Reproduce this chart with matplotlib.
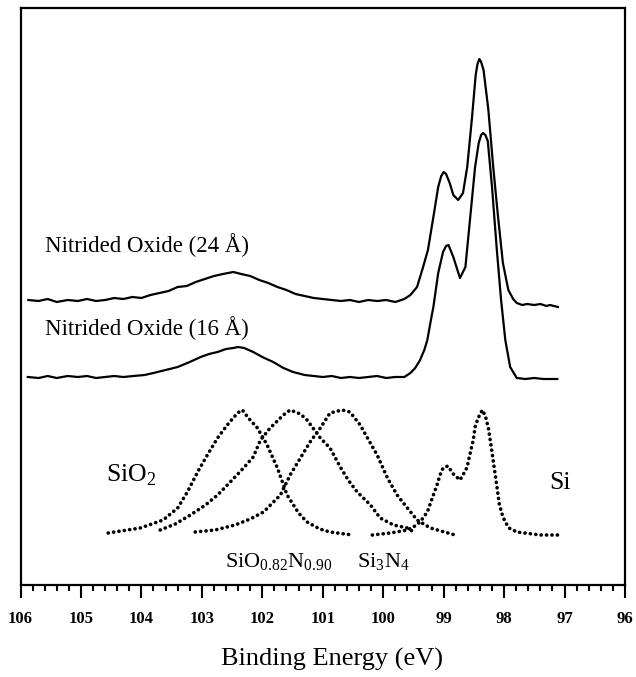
import matplotlib

matplotlib.use("Agg")
import matplotlib.pyplot as plt
from matplotlib.ticker import MultipleLocator

plt.rcParams["font.family"] = ["Liberation Serif", "DejaVu Serif"]
plt.rcParams["mathtext.fontset"] = "custom"
plt.rcParams["mathtext.rm"] = "Liberation Serif"

# --- Nitrided oxide (24 A), measured Si 2p spectrum (arb. units) ---
e_24 = [105.87, 105.70, 105.55, 105.40, 105.22, 105.05, 104.90, 104.75, 104.60, 104.45,
        104.30, 104.15, 104.00, 103.85, 103.70, 103.55, 103.40, 103.25, 103.10, 102.95,
        102.80, 102.65, 102.48, 102.35, 102.20, 102.05, 101.90, 101.75, 101.60, 101.45,
        101.30, 101.15, 101.00, 100.85, 100.70, 100.55, 100.40, 100.25, 100.10, 99.95,
        99.80, 99.65, 99.55, 99.44, 99.34, 99.26, 99.17, 99.09, 99.04, 99.00,
        98.96, 98.90, 98.84, 98.76, 98.68, 98.61, 98.53, 98.47, 98.44, 98.41,
        98.38, 98.34, 98.26, 98.18, 98.10, 98.02, 97.93, 97.85, 97.79, 97.70,
        97.62, 97.50, 97.40, 97.30, 97.24, 97.11]
i_24 = [285, 284, 286, 283, 285, 284, 286, 284, 285, 287,
        286, 288, 287, 290, 292, 294, 298, 299, 303, 306,
        309, 311, 313, 311, 309, 305, 302, 298, 295, 291,
        289, 287, 286, 285, 284, 285, 283, 285, 284, 285,
        283, 286, 290, 298, 318, 335, 368, 398, 409, 413,
        411, 402, 390, 385, 392, 418, 468, 510, 521, 526,
        523, 515, 475, 418, 368, 322, 295, 286, 282, 280,
        281, 280, 281, 279, 280, 278]

# --- Nitrided oxide (16 A) ---
e_16 = [105.88, 105.70, 105.55, 105.40, 105.22, 105.05, 104.90, 104.75, 104.60, 104.45,
        104.30, 104.13, 103.95, 103.80, 103.60, 103.40, 103.20, 103.02, 102.88, 102.74,
        102.60, 102.48, 102.40, 102.30, 102.15, 102.00, 101.82, 101.65, 101.49, 101.30,
        101.15, 101.00, 100.85, 100.70, 100.55, 100.40, 100.25, 100.10, 99.95, 99.80,
        99.65, 99.55, 99.47, 99.39, 99.32, 99.27, 99.22, 99.17, 99.09, 99.01,
        98.96, 98.92, 98.84, 98.73, 98.64, 98.56, 98.48, 98.42, 98.38, 98.35,
        98.31, 98.27, 98.20, 98.12, 98.05, 97.98, 97.90, 97.79, 97.65, 97.50,
        97.35, 97.20, 97.12]
i_16 = [208, 207, 209, 207, 209, 208, 209, 207, 208, 209,
        208, 209, 210, 212, 215, 218, 223, 228, 231, 233,
        236, 237, 238, 237, 233, 228, 223, 217, 213, 210,
        209, 208, 209, 207, 208, 207, 208, 209, 207, 208,
        208, 212, 217, 225, 235, 245, 262, 278, 312, 333,
        339, 340, 328, 307, 318, 368, 418, 442, 450, 452,
        450, 444, 398, 335, 285, 245, 218, 207, 206, 207,
        206, 206, 206]

# --- reference components (dotted) ---
e_sio2 = [104.55, 104.02, 103.64, 103.40, 103.24, 103.07, 102.91, 102.74, 102.58, 102.41,
          102.33, 102.23, 102.08, 101.92, 101.75, 101.59, 101.40, 101.26, 101.05, 100.88,
          100.51]
i_sio2 = [52, 57, 65, 77, 93, 113, 130, 147, 160, 172,
          175, 167, 157, 140, 117, 90, 72, 63, 56, 53,
          50]

e_sioxny = [103.69, 103.44, 103.19, 102.94, 102.74, 102.53, 102.31, 102.15, 102.03, 101.87,
            101.65, 101.54, 101.37, 101.26, 101.04, 100.88, 100.71, 100.58, 100.43, 100.21,
            100.05, 99.83, 99.60, 99.47]
i_sioxny = [55, 61, 70, 80, 90, 103, 117, 128, 145, 157,
            170, 175, 171, 165, 147, 137, 118, 105, 93, 80,
            67, 60, 57, 52]

e_si3n4 = [103.11, 102.78, 102.45, 102.20, 101.98, 101.70, 101.54, 101.37, 101.21, 101.04,
           100.88, 100.68, 100.55, 100.38, 100.26, 100.10, 99.93, 99.77, 99.60, 99.44,
           99.22, 98.81]
i_si3n4 = [53, 55, 60, 66, 73, 90, 110, 127, 143, 157,
           172, 175, 173, 160, 147, 130, 107, 90, 77, 65,
           57, 50]

e_si = [100.18, 99.88, 99.60, 99.50, 99.39, 99.27, 99.17, 99.11, 99.06, 99.01,
        98.93, 98.84, 98.73, 98.68, 98.61, 98.58, 98.51, 98.48, 98.43, 98.36,
        98.31, 98.26, 98.21, 98.17, 98.12, 98.08, 98.02, 97.97, 97.92, 97.79,
        97.40, 97.11]
i_si = [50, 52, 55, 58, 63, 73, 90, 100, 110, 117,
        119, 111, 105, 110, 118, 127, 145, 158, 167, 175,
        169, 157, 137, 120, 99, 81, 68, 62, 57, 53,
        50, 50]

fig = plt.figure(figsize=(6.36, 6.77), dpi=100)
ax = fig.add_axes([20.5 / 636, 92 / 677, 604.5 / 636, 577 / 677])

ax.plot(e_24, i_24, color="black", lw=1.6)
ax.plot(e_16, i_16, color="black", lw=1.6)

dot_style = dict(color="black", lw=2.6, linestyle=(0, (0.05, 1.45)), dash_capstyle="round")
for e, i in [(e_sio2, i_sio2), (e_sioxny, i_sioxny), (e_si3n4, i_si3n4), (e_si, i_si)]:
    ax.plot(e, i, **dot_style)

ax.set_xlim(106, 96)
ax.set_ylim(0, 577)
ax.xaxis.set_major_locator(MultipleLocator(1))
ax.xaxis.set_minor_locator(MultipleLocator(0.2))
ax.set_yticks([])
ax.tick_params(axis="x", which="major", direction="out", length=9.5, width=1.5, pad=9,
               labelsize=12)
ax.tick_params(axis="x", which="minor", direction="out", length=4.5, width=1.5)
for lab in ax.get_xticklabels():
    lab.set_fontweight("bold")
for sp in ax.spines.values():
    sp.set_linewidth(1.6)

txt = dict(fontsize=16.5, va="baseline", ha="left")
ax.text(105.60, 333, "Nitrided Oxide (24 Å)", **txt)
ax.text(105.60, 250, "Nitrided Oxide (16 Å)", **txt)
ax.text(104.58, 104, "SiO$_2$", fontsize=18.5, va="baseline", ha="left")
ax.text(97.26, 96, "Si", fontsize=18.5, va="baseline", ha="left")
ax.text(102.62, 18, "SiO$_{0.82}$N$_{0.90}$", fontsize=16, va="baseline", ha="left")
ax.text(100.44, 18, "Si$_3$N$_4$", fontsize=16, va="baseline", ha="left")

fig.text(332 / 636, 1 - 666 / 677, "Binding Energy (eV)", fontsize=19,
         ha="center", va="baseline")

fig.savefig("out.png", dpi=100)
